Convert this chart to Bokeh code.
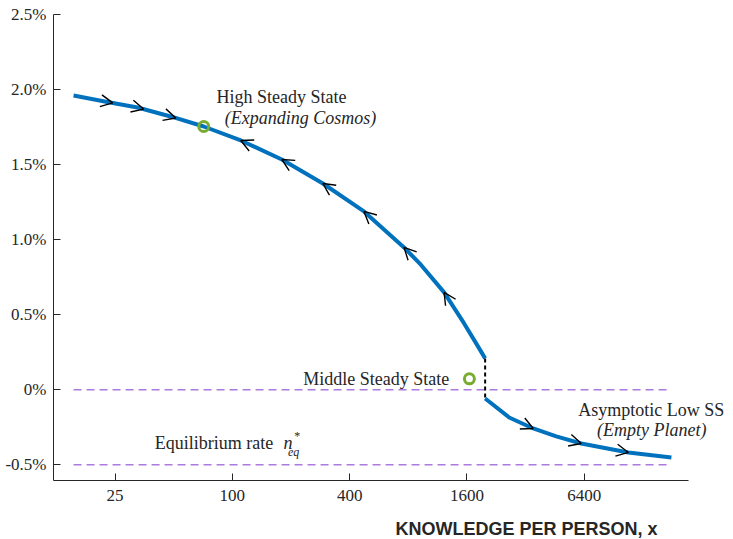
import numpy as np
from bokeh.plotting import figure
from bokeh.models import Range1d, FixedTicker, Label, Arrow, OpenHead, Title
from bokeh.embed import file_html
from bokeh.resources import INLINE

# ---- data ----
upper_x = [15.3, 22.1, 32.6, 48.2, 71.3, 110.5, 179.5, 291.6, 473.8, 760.8, 930.5, 1222, 1548, 1785, 1985]
upper_y = [1.962, 1.922, 1.882, 1.822, 1.755, 1.662, 1.535, 1.375, 1.189, 0.949, 0.832, 0.649, 0.442, 0.309, 0.209]
lower_x = [1985, 2638, 3505, 4600, 6186, 10790, 17950]
lower_y = [-0.058, -0.185, -0.258, -0.311, -0.358, -0.418, -0.451]

steady_x = [71.3, 1648]
steady_y = [1.755, 0.073]

ref_levels = [0.0, -0.5]
ref_x = [15.3, 17950]

arrows_up_right = [24.3, 35.0, 51.2]
arrows_up_left = [110.5, 179.5, 291.6, 473.8, 760.8, 1222]
arrows_low_right = [3505, 6186, 10790]

x_ticks = [25, 100, 400, 1600, 6400]
x_tick_labels = ["25", "100", "400", "1600", "6400"]
y_ticks = [2.5, 2.0, 1.5, 1.0, 0.5, 0.0, -0.5]
y_tick_labels = ["2.5%", "2.0%", "1.5%", "1.0%", "0.5%", "0%", "-0.5%"]

BLUE = "#0072BD"
GREEN = "#77AC30"
PURPLE = "#AC7BE0"
TXT = "#262626"
SERIF = "Liberation Serif"

p = figure(width=733, height=539, x_axis_type="log",
           x_range=Range1d(12.07, 37400), y_range=Range1d(-0.605, 2.595),
           output_backend="svg", toolbar_location=None,
           min_border_left=53, min_border_right=0, min_border_top=0, min_border_bottom=59)
p.grid.visible = False
p.outline_line_color = None
p.background_fill_color = "white"

# axes
for ax in (p.xaxis[0], p.yaxis[0]):
    ax.axis_line_color = TXT
    ax.major_tick_line_color = TXT
    ax.major_tick_in = 7
    ax.major_tick_out = 0
    ax.minor_tick_line_color = None
    ax.major_label_text_font = SERIF
    ax.major_label_text_font_size = "17px"
    ax.major_label_text_color = TXT
p.xaxis[0].bounds = (12.07, 21870)
p.xaxis[0].ticker = FixedTicker(ticks=x_ticks)
p.xaxis[0].major_label_overrides = {t: l for t, l in zip(x_ticks, x_tick_labels)}
p.xaxis[0].major_label_standoff = 9
p.xaxis[0].axis_label = "\u00a0"
p.xaxis[0].axis_label_text_font_size = "9px"
p.xaxis[0].axis_label_standoff = 0
p.yaxis[0].bounds = (-0.605, 2.5)
p.yaxis[0].ticker = FixedTicker(ticks=y_ticks)
p.yaxis[0].major_label_overrides = {t: l for t, l in zip(y_ticks, y_tick_labels)}
p.yaxis[0].major_label_standoff = 7

# reference dashed lines
for lev in ref_levels:
    p.line(ref_x, [lev, lev], line_color=PURPLE, line_width=1.3, line_dash="8 5")

# curve
p.line(upper_x, upper_y, line_color=BLUE, line_width=4, line_join="round")
p.line(lower_x, lower_y, line_color=BLUE, line_width=4, line_join="round")
# jump
p.line([upper_x[-1], lower_x[0]], [upper_y[-1], lower_y[0]], line_color="black",
       line_width=2, line_dash="4 3")

# steady states
p.scatter(steady_x, steady_y, marker="circle", size=10, fill_color=None,
          line_color=GREEN, line_width=3)

# arrows along the curve
def add_arrows(xs_arrow, direction, cx, cy):
    lx = np.log10(cx)
    for ax_ in xs_arrow:
        tip_y = float(np.interp(np.log10(ax_), lx, cy))
        tail_x = ax_ * 10 ** (-direction * 0.04)
        tail_y = float(np.interp(np.log10(tail_x), lx, cy))
        p.add_layout(Arrow(end=OpenHead(size=12, line_width=1.4, line_color="black"),
                           x_start=tail_x, y_start=tail_y, x_end=ax_, y_end=tip_y,
                           line_color=None))

add_arrows(arrows_up_right, 1, upper_x, upper_y)
add_arrows(arrows_up_left, -1, upper_x, upper_y)
add_arrows(arrows_low_right, 1, lower_x, lower_y)

def lab(x, y, text, size="18px", style="normal", align="left", font=SERIF):
    p.add_layout(Label(x=x, y=y, text=text, text_font=font, text_font_size=size,
                       text_font_style=style, text_color=TXT, text_align=align,
                       text_baseline="alphabetic"))

lab(82.8, 1.952, "High Steady State")
lab(91.4, 1.812, "(Expanding Cosmos)", style="italic")
lab(231, 0.073, "Middle Steady State")
lab(5970, -0.138, "Asymptotic Low SS")
lab(7450, -0.265, "(Empty Planet)", style="italic")
lab(40.0, -0.353, "Equilibrium rate")
lab(183, -0.353, "n", style="italic")
lab(208, -0.305, "*", size="12px")
lab(193, -0.415, "eq", size="12px", style="italic")

p.add_layout(Title(text="KNOWLEDGE PER PERSON, x", align="left", offset=342,
                   text_font="Liberation Sans", text_font_size="18px",
                   text_font_style="bold", text_color=TXT, standoff=0), "below")

open("out.html", "w").write(file_html(p, INLINE))
